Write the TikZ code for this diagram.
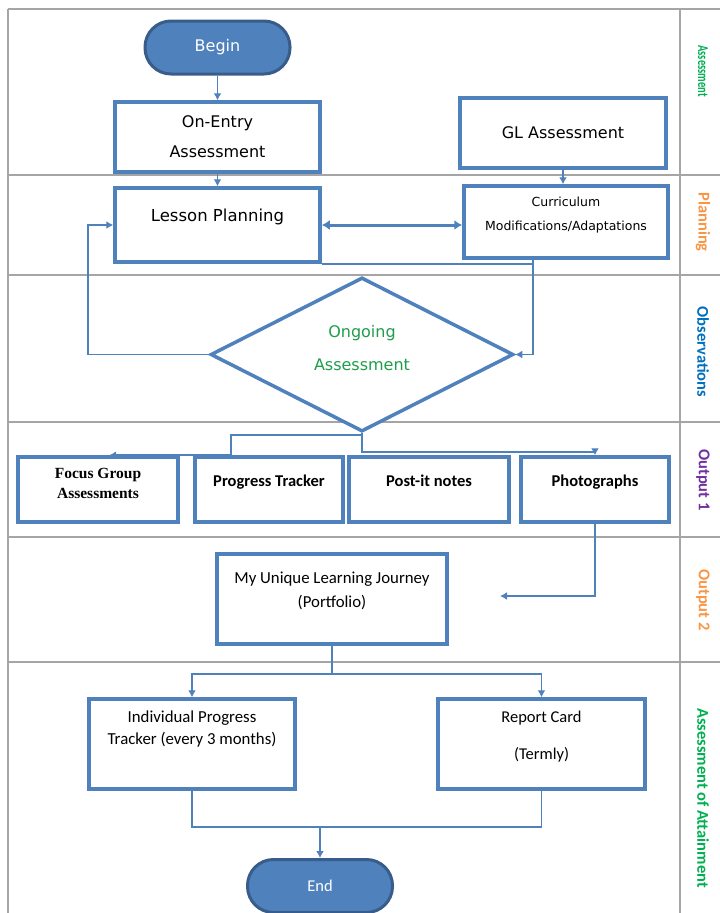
\documentclass[tikz,border=0pt]{standalone}
\usepackage{fontspec}
\setmainfont{Carlito}
\newfontfamily\handfont{DejaVu Sans}
\newfontfamily\timesfont{Liberation Serif}
\usetikzlibrary{shapes.geometric,arrows.meta}
\definecolor{flowblue}{HTML}{4F81BD}
\definecolor{termedge}{HTML}{385D8A}
\definecolor{lanegray}{HTML}{A5A5A5}
\definecolor{lblgreen}{HTML}{00B050}
\definecolor{lblorange}{HTML}{F79646}
\definecolor{lblblue}{HTML}{0070C0}
\definecolor{lblpurple}{HTML}{7030A0}
\definecolor{ongoinggreen}{HTML}{1E9E4A}
\tikzset{
  terminal/.style={draw=termedge, fill=flowblue, line width=3pt, rounded corners=26pt,
    minimum width=145pt, minimum height=53pt, text=white},
  stepbox/.style={draw=flowblue, fill=white, line width=3.5pt, align=center, inner sep=2pt},
  flowline/.style={draw=flowblue, line width=1.8pt},
  flow/.style={flowline, -{Latex[length=7pt,width=8pt]}},
  bothway/.style={draw=flowblue, line width=3pt, {Latex[length=8pt,width=10pt]}-{Latex[length=8pt,width=10pt]}},
  lane/.style={draw=lanegray, line width=1.5pt},
  lanelabel/.style={rotate=-90, font=\bfseries\fontsize{16.5}{18}\selectfont}
}
\begin{document}
\begin{tikzpicture}[x=1pt, y=-1pt]
  \useasboundingbox (0,0) rectangle (720,913);
  % swim lanes
  \draw[lane] (8,9) -- (720,9);
  \draw[lane] (8,9) -- (8,913);
  \draw[lane] (680,9) -- (680,913);
  \foreach \y in {175,275,537,662} {
    \draw[lane] (8,\y) -- (720,\y);
  }
  \draw[lane, line width=2.5pt] (8,422) -- (720,422);
  % lane labels
  \node[lanelabel, text=lblgreen, font=\bfseries\fontsize{15}{17}\selectfont] (lane1) at (703,71)
    {\scalebox{0.7}[1]{Assessment}};
  \foreach \txt/\col/\yc [count=\i from 2] in {Planning/lblorange/222,
      Observations/lblblue/352, Output 1/lblpurple/480, Output 2/lblorange/600,
      Assessment of Attainment/lblgreen/798} {
    \node[lanelabel, text=\col] (lane\i) at (703,\yc) {\txt};
  }

  % assessment lane
  \node[terminal, font=\handfont\fontsize{16}{18}\selectfont] (begin) at (217.5,47.5) {Begin};
  \node[stepbox, minimum width=205pt, minimum height=70pt, font=\handfont\fontsize{16}{30}\selectfont]
    (onentry) at (217.5,137) {On-Entry\\Assessment};
  \node[stepbox, minimum width=206pt, minimum height=70pt, font=\handfont\fontsize{16}{18}\selectfont]
    (glass) at (563,133) {GL Assessment};
  % planning lane
  \node[stepbox, minimum width=205pt, minimum height=74pt, text depth=20pt,
    font=\handfont\fontsize{16.5}{18}\selectfont] (lesson) at (217.5,225) {Lesson Planning};
  \node[stepbox, minimum width=204pt, minimum height=72pt, text depth=17pt,
    font=\handfont\fontsize{12.5}{24}\selectfont] (curric) at (566,222) {Curriculum\\Modifications/Adaptations};
  % observations lane
  \node[diamond, draw=flowblue, fill=white, line width=3.5pt, minimum width=303pt, minimum height=135pt,
    inner sep=0pt, align=center, text depth=13pt, text=ongoinggreen,
    font=\handfont\fontsize{16}{33}\selectfont] (ongoing) at (362,354.5) {Ongoing\\Assessment};
  % output 1 lane
  \node[stepbox, minimum width=160pt, minimum height=65pt, text depth=12pt,
    font=\timesfont\bfseries\fontsize{15.5}{20}\selectfont] (focus) at (98,489.5) {Focus Group\\Assessments};
  \node[stepbox, minimum width=148pt, minimum height=65pt, text depth=18pt,
    font=\bfseries\fontsize{16.5}{18}\selectfont] (tracker) at (269,489.5) {Progress Tracker};
  \node[stepbox, minimum width=160pt, minimum height=65pt, text depth=18pt,
    font=\bfseries\fontsize{16.5}{18}\selectfont] (postit) at (429,489.5) {Post-it notes};
  \node[stepbox, minimum width=148pt, minimum height=65pt, text depth=18pt,
    font=\bfseries\fontsize{16.5}{18}\selectfont] (photo) at (595,489.5) {Photographs};
  % output 2 lane
  \node[stepbox, minimum width=230pt, minimum height=90pt, text depth=19pt,
    font=\fontsize{16.8}{24}\selectfont] (journey) at (332,599) {My Unique Learning Journey\\(Portfolio)};
  % attainment lane
  \node[stepbox, minimum width=206pt, minimum height=90pt, text depth=33pt,
    font=\fontsize{16.8}{22}\selectfont] (ipt) at (192,744) {Individual Progress\\Tracker (every 3 months)};
  \node[stepbox, minimum width=207pt, minimum height=90pt, text depth=18pt,
    font=\fontsize{16.5}{37}\selectfont] (rcard) at (541.5,744) {Report Card\\(Termly)};
  \node[terminal, font=\fontsize{16.5}{18}\selectfont] (end) at (320,886) {End};

  % connectors
  \draw[flow] (begin) -- (onentry);
  \draw[flow] (onentry) -- (lesson);
  \draw[flow] (glass.south) -- (glass.south |- curric.north);
  \draw[bothway] (lesson.east) -- (lesson.east -| curric.west);
  \coordinate (cdrop) at (533,262);
  \draw[flowline] (lesson.south east) -- (lesson.south east -| cdrop);
  \draw[flow] (curric.south -| cdrop) |- (ongoing.east);
  \draw[flow] (ongoing.west) -| ([xshift=-25pt]lesson.west) -- (lesson.west);
  \draw[flow] (ongoing.south) -- ++(0,19) -| (photo.north);
  \draw[flow] (ongoing.south) -- ++(0,2) -| ([xshift=-38pt]tracker.north) -- ([xshift=11pt]focus.north);
  \coordinate (jarrow) at (500,596);
  \draw[flow] (photo.south) |- (jarrow);
  \draw[flow] (journey.south) -- ++(0,28) -| (ipt.north);
  \draw[flow] (journey.south) -- ++(0,28) -| (rcard.north);
  \draw[flowline] (ipt.south) -- ++(0,36) coordinate (mleft) -| (rcard.south);
  \draw[flow] (mleft -| end.north) -- (end.north);
\end{tikzpicture}
\end{document}
